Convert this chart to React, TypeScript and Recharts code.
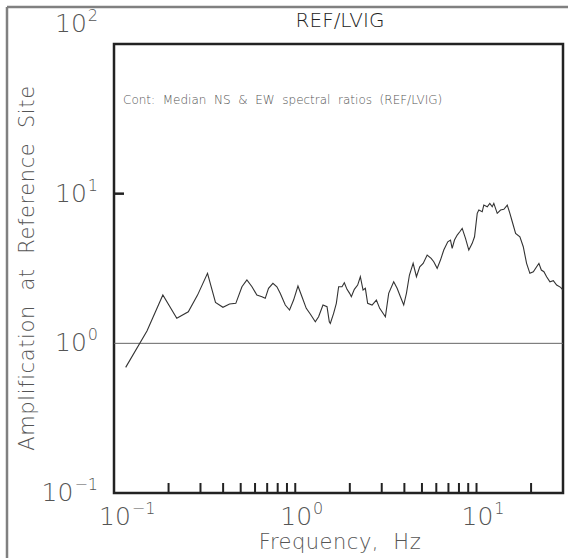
import { LineChart, Line, XAxis, YAxis, ReferenceLine, ReferenceArea } from "recharts";

// median NS & EW spectral ratio, REF/LVIG
const freqHz = [
  0.116, 0.152, 0.186, 0.222, 0.257, 0.289, 0.328, 0.363, 0.399, 0.434,
  0.47, 0.508, 0.541, 0.577, 0.614, 0.655, 0.683, 0.712, 0.753, 0.792,
  0.826, 0.881, 0.93, 0.979, 1.035, 1.089, 1.15, 1.21, 1.29, 1.345,
  1.422, 1.497, 1.541, 1.561, 1.628, 1.685, 1.735, 1.811, 1.865, 1.93,
  1.995, 2.039, 2.118, 2.209, 2.286, 2.366, 2.436, 2.508, 2.653, 2.803,
  2.923, 3.142, 3.277, 3.492, 3.647, 3.803, 3.966, 4.105, 4.265, 4.47,
  4.662, 4.862, 5.077, 5.342, 5.62, 5.809, 6.066, 6.326, 6.597, 6.941,
  7.185, 7.34, 7.559, 7.824, 8.086, 8.337, 8.694, 9.068, 9.467, 9.75,
  10.09, 10.3, 10.75, 10.97, 11.46, 11.84, 12.21, 12.46, 13.01, 13.57,
  14.15, 14.78, 15.28, 15.75, 16.43, 17.35, 18.11, 18.89, 19.7, 20.58,
  21.46, 22.09, 22.78, 23.54, 24.36, 25.41, 26.53, 27.67, 29.12, 30.0,
];
const ampRatio = [
  0.691, 1.208, 2.102, 1.469, 1.626, 2.1, 2.935, 1.879, 1.74, 1.83,
  1.85, 2.388, 2.648, 2.388, 2.102, 2.048, 1.998, 2.33, 2.516, 2.388,
  2.158, 1.803, 1.669, 1.946, 2.414, 2.048, 1.713, 1.569, 1.394, 1.505,
  1.803, 1.756, 1.394, 1.36, 1.587, 1.85, 2.388, 2.388, 2.54, 2.295,
  2.158, 2.048, 2.295, 2.451, 2.786, 2.27, 2.33, 1.85, 1.803, 1.946,
  1.713, 1.505, 2.158, 2.579, 2.33, 2.048, 1.803, 2.158, 2.86, 3.422,
  2.786, 3.249, 3.422, 3.889, 3.697, 3.509, 3.17, 3.601, 4.2, 4.771,
  4.898, 4.312, 4.898, 5.29, 5.567, 5.865, 5.027, 4.2, 4.656, 5.153,
  7.386, 7.769, 7.57, 8.391, 8.176, 8.615, 8.176, 8.615, 7.386, 7.769,
  7.853, 8.391, 7.386, 6.492, 5.43, 5.153, 4.418, 3.422, 2.935, 3.008,
  3.249, 3.422, 3.088, 3.008, 2.786, 2.579, 2.619, 2.451, 2.366, 2.27,
];

const xTicks = [0.1, 0.2, 0.3, 0.4, 0.5, 0.6, 0.7, 0.8, 0.9, 1, 2, 3, 4, 5, 6, 7, 8, 9, 10, 20];
const yTicks = [0.1, 1, 10, 100];

const data = freqHz.map((f, i) => ({ f, amp: ampRatio[i] }));

const FONT = "'DejaVu Sans', sans-serif";
const TXT = "#555";
const W = 568;
const H = 558;

const decade = (v: number) => {
  const e = Math.round(Math.log10(v));
  return Math.abs(Math.log10(v) - e) < 1e-6 ? e : null;
};
const expLabel = (e: number) => (e < 0 ? `\u2212${-e}` : `${e}`);

const XTick = (props: any) => {
  const { x, y, payload } = props;
  const v = payload.value as number;
  const e = decade(v);
  return (
    <g>
      {v > 0.1 && <line x1={x} x2={x} y1={y} y2={y - 10} stroke="#222" strokeWidth={2} />}
      {e !== null && (
        <text x={x - 15} y={y + 32} fontSize={25} fontFamily={FONT} fontWeight={300} fill={TXT}>
          10
          <tspan dx={1} dy={-11} fontSize={16}>{expLabel(e)}</tspan>
        </text>
      )}
    </g>
  );
};

const YTick = (props: any) => {
  const { x, y, payload } = props;
  const v = payload.value as number;
  const e = decade(v) ?? 0;
  // top label sits above the frame corner
  const base = v === 100 ? y - 12 : y + 8;
  return (
    <g>
      {v === 10 && <line x1={x} x2={x + 10} y1={y} y2={y} stroke="#222" strokeWidth={2.5} />}
      <text x={x - 16} y={base} textAnchor="end" fontSize={25} fontFamily={FONT} fontWeight={300} fill={TXT}>
        10
        <tspan dx={1} dy={-11} fontSize={16}>{expLabel(e)}</tspan>
      </text>
    </g>
  );
};

export default function App() {
  return (
    <>
      <style>{"html,body{margin:0;padding:0;background:#fff}#root{width:568px;height:558px;overflow:hidden}"}</style>
      <div style={{ width: W, height: H, position: "relative", background: "#fff" }}>
        <LineChart width={W} height={H} data={data} margin={{ top: 44, right: 5, bottom: 0, left: 54 }}>
          <XAxis
            dataKey="f"
            type="number"
            scale="log"
            domain={[0.1, 30]}
            allowDataOverflow
            ticks={xTicks}
            interval={0}
            tick={<XTick />}
            tickLine={false}
            tickSize={0}
            tickMargin={0}
            axisLine={false}
            height={65}
          />
          <YAxis
            type="number"
            scale="log"
            domain={[0.1, 100]}
            allowDataOverflow
            ticks={yTicks}
            interval={0}
            tick={<YTick />}
            tickLine={false}
            tickSize={0}
            tickMargin={0}
            axisLine={false}
            width={60}
          />
          <ReferenceArea
            x1={0.1}
            x2={30}
            y1={0.1}
            y2={100}
            fill="none"
            fillOpacity={0}
            stroke="#222"
            strokeWidth={2.5}
            ifOverflow="visible"
          />
          <ReferenceLine y={1} stroke="#666" strokeWidth={1} />
          <Line
            type="linear"
            dataKey="amp"
            stroke="#333"
            strokeWidth={1.1}
            dot={false}
            isAnimationActive={false}
          />
        </LineChart>
        <svg width={W} height={H} style={{ position: "absolute", left: 0, top: 0, pointerEvents: "none" }}>
          {/* page frame */}
          <line x1={7} y1={7} x2={W} y2={7} stroke="#808080" strokeWidth={2.5} />
          <line x1={7} y1={7} x2={7} y2={H} stroke="#808080" strokeWidth={2.5} />
          <text x={340} y={27} textAnchor="middle" fontSize={20} fontFamily={FONT} fontWeight={300} fill="#222">
            REF/LVIG
          </text>
          <text x={123} y={104} fontSize={12} fontFamily={FONT} fontWeight={300} fill={TXT} style={{ whiteSpace: "pre" }}>
            Cont:  Median  NS  &amp;  EW  spectral  ratios  (REF/LVIG)
          </text>
          <text
            x={340}
            y={549}
            textAnchor="middle"
            fontSize={21}
            fontFamily={FONT}
            fontWeight={300}
            fill={TXT}
            letterSpacing={0.5}
            style={{ whiteSpace: "pre" }}
          >
            Frequency,  Hz
          </text>
          <text
            x={34}
            y={268}
            textAnchor="middle"
            transform="rotate(-90 34 268)"
            fontSize={21}
            fontFamily={FONT}
            fontWeight={300}
            fill={TXT}
            letterSpacing={0.6}
            style={{ whiteSpace: "pre" }}
          >
            Amplification  at  Reference  Site
          </text>
        </svg>
      </div>
    </>
  );
}
